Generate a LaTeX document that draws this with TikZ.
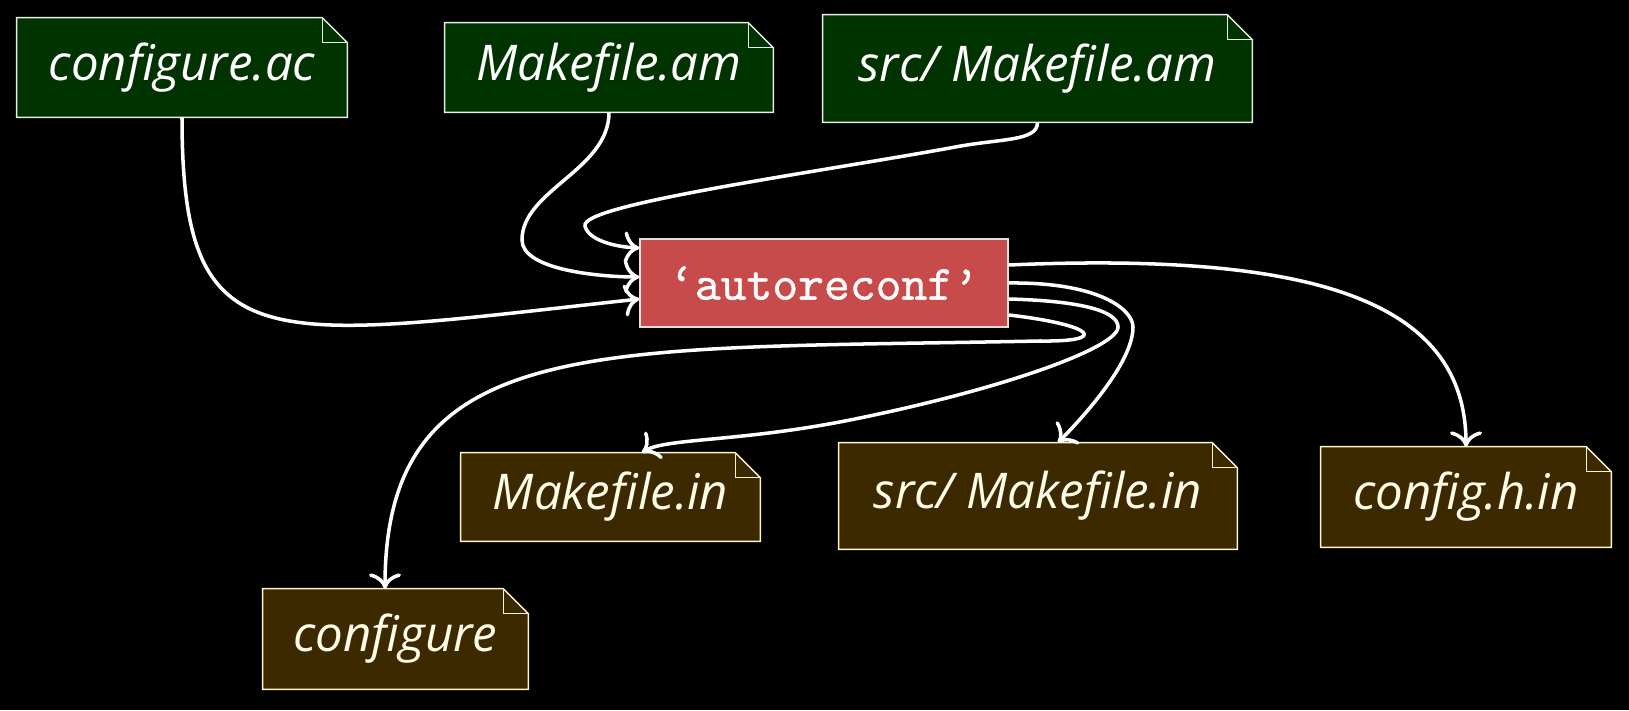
\documentclass[tikz,border=0pt]{standalone}
\usepackage{fontspec}
\setsansfont{Open Sans}
\newfontfamily\toolfont{lmmono10-regular.otf}[FakeBold=0.8]
\usetikzlibrary{arrows.meta,backgrounds}
\definecolor{amgreen}{RGB}{0,51,0}
\definecolor{inbrown}{RGB}{61,41,0}
\definecolor{toolred}{RGB}{200,75,75}
\definecolor{inedge}{RGB}{255,246,200}
\definecolor{intext}{RGB}{255,252,232}
\definecolor{amedge}{RGB}{228,238,228}

\begin{document}
\begin{tikzpicture}[x=0.02cm,y=0.02cm,
  file/.style={font=\sffamily\itshape\fontsize{28}{32}\selectfont,inner sep=0pt},
  flow/.style={draw=white,line width=2pt,-{Computer Modern Rightarrow[scale=1.45]}}]
% black page
\begin{scope}[on background layer]
  \fill[black] (0,0) rectangle (1629,710);
\end{scope}
\useasboundingbox (0,0) rectangle (1629,710);
% hand-written sources
\node[file,text=white,minimum width=6.6cm,minimum height=1.98cm] (confac) at (182,642.5) {configure.ac};
\node[file,text=white,minimum width=6.56cm,minimum height=1.78cm] (mkam) at (609,642.5) {Makefile.am};
\node[file,text=white,minimum width=8.58cm,minimum height=2.14cm] (srcam) at (1037.5,641.5) {src/ Makefile.am};
% the tool
\node[draw=black!12,fill=toolred,text=white,line width=0.8pt,inner sep=0pt,
  font=\toolfont\fontsize{28}{32}\selectfont,minimum width=7.36cm,minimum height=1.76cm] (ar) at (824,427) {‘autoreconf’};
% generated files
\node[file,text=intext,minimum width=5.98cm,minimum height=1.76cm] (mkin) at (610.5,213) {Makefile.in};
\node[file,text=intext,minimum width=7.96cm,minimum height=2.12cm] (srcin) at (1038,214) {src/ Makefile.in};
\node[file,text=intext,minimum width=5.8cm,minimum height=2cm] (confhin) at (1466,213) {config.h.in};
\node[file,text=intext,minimum width=5.3cm,minimum height=2cm] (conf) at (395.5,71) {configure};
% dog-eared sheets behind the names
\begin{scope}[on background layer]
\foreach \n/\c/\e in {confac/amgreen/amedge, mkam/amgreen/amedge, srcam/amgreen/amedge,
    mkin/inbrown/inedge, srcin/inbrown/inedge, confhin/inbrown/inedge, conf/inbrown/inedge}{
  \draw[draw=\e,fill=\c,line width=0.8pt] (\n.south west) -- (\n.north west)
    -- ([xshift=-0.5cm]\n.north east) -- ([yshift=-0.5cm]\n.north east) -- (\n.south east) -- cycle;
  \draw[draw=\e,line width=0.8pt] ([xshift=-0.5cm]\n.north east) |- ([yshift=-0.5cm]\n.north east);
}
\end{scope}
% into autoreconf
\draw[flow] (confac.south) .. controls (182,345) and (265,370) .. ([yshift=-0.32cm]ar.west);
\draw[flow] (mkam.south) .. controls (609,540) and (522,520) .. (522,470)
  .. controls (522,440) and (600,433) .. ([yshift=0.12cm]ar.west);
\draw[flow] (srcam.south) .. controls (1037.5,568) and (1000,572) .. (950,562)
  .. controls (800,535) and (580,505) .. (585,484)
  .. controls (588,470) and (615,463) .. ([yshift=0.7cm]ar.west);
% out of autoreconf
\draw[flow] ([yshift=0.36cm]ar.east) .. controls (1312,458) and (1466,410) .. (confhin.north);
\draw[flow] (ar.east) .. controls (1100,428) and (1133,400) .. (1133,383)
  .. controls (1133,350) and (1090,300) .. ([xshift=0.4cm]srcin.north);
\draw[flow] ([yshift=-0.32cm]ar.east) .. controls (1085,409) and (1118,398) .. (1118,383)
  .. controls (1118,362) and (1000,320) .. (850,290)
  .. controls (740,268) and (665,272) .. ([xshift=0.63cm]mkin.north);
\draw[flow] ([yshift=-0.64cm]ar.east) .. controls (1095,385) and (1110,368) .. (1040,369)
  .. controls (600,360) and (385,380) .. ([xshift=-0.21cm]conf.north);
\end{tikzpicture}
\end{document}
